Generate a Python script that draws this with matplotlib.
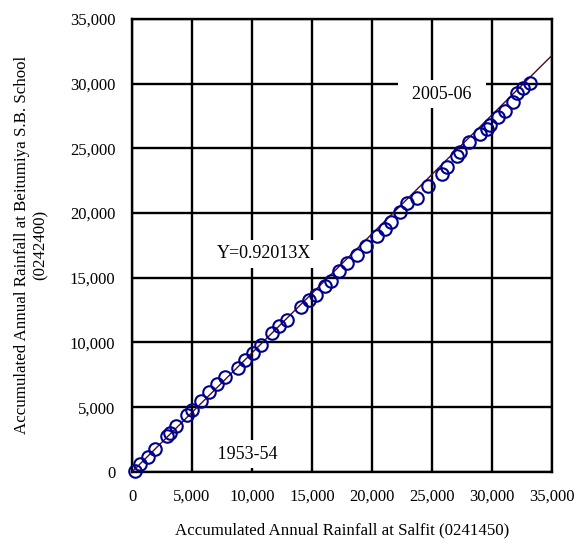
import matplotlib
matplotlib.use('Agg')
import matplotlib.pyplot as plt
import numpy as np
from matplotlib.ticker import FuncFormatter

plt.rcParams['font.family'] = ['Liberation Serif', 'DejaVu Serif']

# accumulated annual rainfall (mm), 1953-54 .. 2005-06
salfit = [250, 667, 1308, 1917, 2892, 3167, 3667, 4558, 4975, 5750,
          6417, 7083, 7750, 8858, 9417, 10108, 10750, 11642, 12275, 12892,
          14083, 14775, 15333, 16083, 16558, 17275, 17942, 18725, 19500, 20392,
          21083, 21558, 22333, 22942, 23725, 24692, 25808, 26225, 27108, 27333,
          28108, 29000, 29558, 29833, 30525, 31083, 31775, 32058, 32608, 33167]
beitumiya = [100, 618, 1179, 1777, 2782, 2988, 3555, 4405, 4791, 5487,
             6159, 6801, 7318, 8037, 8655, 9219, 9815, 10765, 11283, 11747,
             12728, 13292, 13702, 14374, 14784, 15556, 16174, 16770, 17465, 18238,
             18753, 19343, 20116, 20811, 21151, 22102, 23029, 23547, 24420, 24753,
             25526, 26121, 26484, 26816, 27411, 27921, 28617, 29312, 29652, 30039]
slope = 0.92013
fit_x = [0, 35000]

fig = plt.figure(figsize=(5.74, 5.43), dpi=100)
ax = fig.add_axes([0.230, 0.131, 0.732, 0.834])

ax.plot(fit_x, [slope * v for v in fit_x], color='#4a0a2a', lw=1.0, zorder=3)
ax.plot(salfit, beitumiya, 'o', mfc='none', mec='#000090', mew=1.5, ms=9,
        zorder=4, clip_on=False)

ax.set_xlim(0, 35000)
ax.set_ylim(0, 35000)
ax.set_xticks(np.arange(0, 35001, 5000))
ax.set_yticks(np.arange(0, 35001, 5000))
fmt = FuncFormatter(lambda v, p: f'{int(v):,}')
ax.xaxis.set_major_formatter(fmt)
ax.yaxis.set_major_formatter(fmt)
ax.tick_params(length=0, labelsize=12, pad=12)
ax.grid(True, color='black', lw=1.7)
for s in ax.spines.values():
    s.set_linewidth(1.7)

box = dict(fc='white', ec='none', pad=4)
ax.text(9580, 1350, '   1953-54   ', fontsize=13, ha='center', va='center', bbox=box, zorder=5)
ax.text(11000, 16850, 'Y=0.92013X', fontsize=13, ha='center', va='center', bbox=box, zorder=5)
ax.text(25830, 29200, '  2005-06  ', fontsize=13, ha='center', va='center', bbox=box, zorder=5)

ax.set_xlabel('Accumulated Annual Rainfall at Salfit (0241450)', fontsize=12.2, labelpad=13)
ax.set_ylabel('Accumulated Annual Rainfall at Beitumiya S.B. School\n(0242400)',
              fontsize=12.2, labelpad=15.5)

fig.savefig('out.png', dpi=100)
